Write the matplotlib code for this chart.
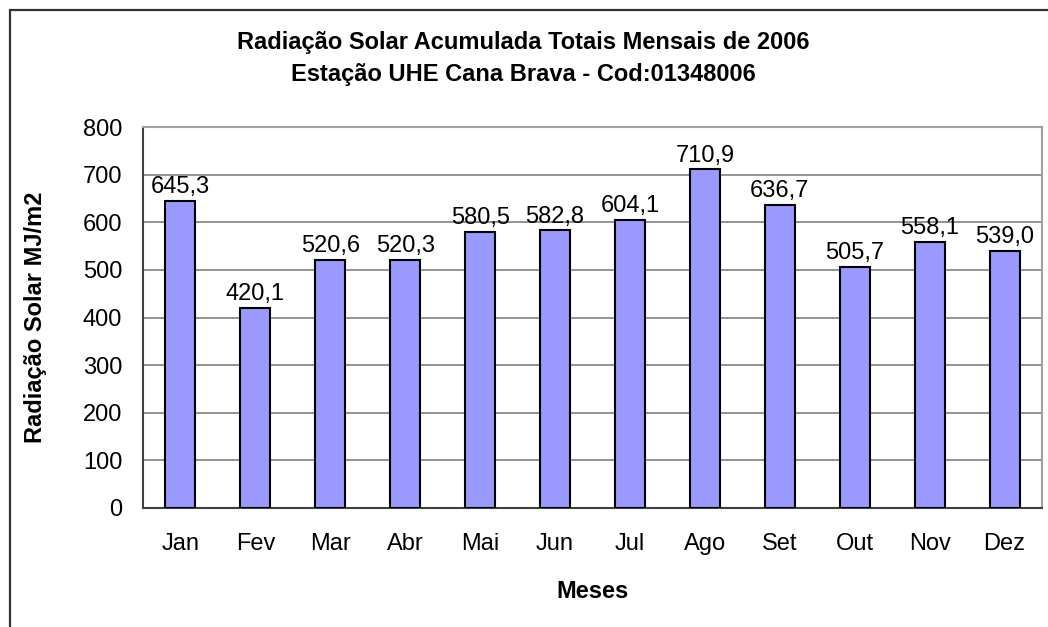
import matplotlib.pyplot as plt
from matplotlib.patches import Rectangle

plt.rcParams['font.family'] = ['Liberation Sans', 'DejaVu Sans']

# dados
meses = ["Jan", "Fev", "Mar", "Abr", "Mai", "Jun", "Jul", "Ago", "Set", "Out", "Nov", "Dez"]
radiacao = [645.3, 420.1, 520.6, 520.3, 580.5, 582.8, 604.1, 710.9, 636.7, 505.7, 558.1, 539.0]
yticks = [0, 100, 200, 300, 400, 500, 600, 700, 800]

W, H = 1048, 627
fig = plt.figure(figsize=(W / 100, H / 100), dpi=100)

# borda externa do gráfico (cortada à direita e embaixo)
fig.patches.append(Rectangle((9.5 / W, -0.1), 1.2, (H - 9.5) / H + 0.1, transform=fig.transFigure,
                             fill=False, edgecolor='#333333', linewidth=1.6))

ax = fig.add_axes([143 / W, (H - 508) / H, (1042 - 143) / W, (508 - 127) / H])

x = range(len(meses))
bars = ax.bar(x, radiacao, width=0.4, color='#9999FF', edgecolor='black', linewidth=1.5, zorder=3)

for xi, v in zip(x, radiacao):
    ax.text(xi, v + 6, f"{v:.1f}".replace(".", ","), ha='center', va='bottom', fontsize=17)

ax.set_xlim(-0.5, len(meses) - 0.5)
ax.set_ylim(0, 800)
ax.set_yticks(yticks)
ax.set_xticks(list(x))
ax.set_xticklabels(meses)
ax.tick_params(axis='both', length=0, labelsize=17)
ax.tick_params(axis='x', pad=18)
ax.tick_params(axis='y', pad=15)
ax.yaxis.grid(True, color='#808080', linewidth=1.2, zorder=0)

for s in ['top', 'right']:
    ax.spines[s].set_color('#a0a0a0')
    ax.spines[s].set_linewidth(1.5)
for s in ['left', 'bottom']:
    ax.spines[s].set_color('#404040')
    ax.spines[s].set_linewidth(1.5)

ax.set_xlabel("Meses", fontsize=17, fontweight='bold', labelpad=18)
ax.set_ylabel("Radiação Solar MJ/m2", fontsize=17, fontweight='bold', labelpad=26)

fig.text(523 / W, 1 - 43 / H, "Radiação Solar Acumulada Totais Mensais de 2006",
         ha='center', va='center', fontsize=17, fontweight='bold')
fig.text(523 / W, 1 - 74 / H, "Estação UHE Cana Brava - Cod:01348006",
         ha='center', va='center', fontsize=17, fontweight='bold')

fig.savefig("out.png", dpi=100)
